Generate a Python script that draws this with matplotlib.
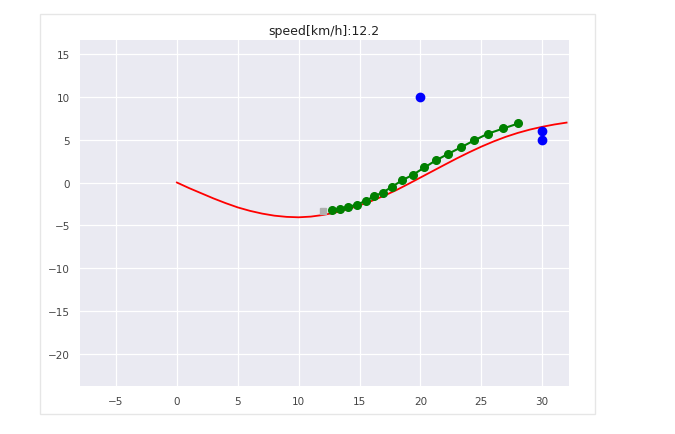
import matplotlib.pyplot as plt
from matplotlib.patches import Rectangle

# course (red)
course_x = [0, 1, 2, 3, 4, 5, 6, 7, 8, 9, 10, 11, 12, 13, 14, 15, 16,
            17, 18, 19, 20, 21, 22, 23, 24, 25, 26, 27, 28, 29, 30, 31, 32]
course_y = [0, -0.65, -1.25, -1.85, -2.4, -2.9, -3.3, -3.62, -3.86, -4.0, -4.05,
            -3.97, -3.78, -3.5, -3.12, -2.66, -2.14, -1.55, -0.9, -0.17, 0.58,
            1.33, 2.08, 2.82, 3.52, 4.18, 4.78, 5.32, 5.78, 6.17, 6.49, 6.76, 6.98]

# predicted trajectory (green)
traj_x = [12.71, 13.39, 14.08, 14.77, 15.5, 16.19, 16.9, 17.69, 18.51, 19.42,
          20.32, 21.26, 22.29, 23.36, 24.4, 25.53, 26.81, 28.04]
traj_y = [-3.23, -3.03, -2.84, -2.57, -2.14, -1.6, -1.17, -0.47, 0.27, 0.93,
          1.75, 2.57, 3.35, 4.12, 4.9, 5.68, 6.3, 6.88]

# points (blue)
pt_x = [20, 30, 30]
pt_y = [10, 6, 5]

# vehicle position
car_x = [12.0]
car_y = [-3.35]

speed = 12.2

fig = plt.figure(figsize=(6.75, 4.35), dpi=100)
# light frame around the figure area
frame = Rectangle((40/675, 20/435), 555/675, 400/435, transform=fig.transFigure,
                  facecolor='none', edgecolor='#e6e6e6', linewidth=1, zorder=-10)
fig.patches.append(frame)

ax = fig.add_axes([79.5/675, 1-387/435, (569-79.5)/675, (387-41)/435])
ax.set_facecolor('#EAEAF2')
for s in ax.spines.values():
    s.set_visible(False)
ax.grid(True, color='white', linewidth=0.9)
ax.set_axisbelow(True)

ax.plot(course_x, course_y, '-r', linewidth=1.3)
ax.plot(traj_x, traj_y, '-o', color='green', markersize=5.5, linewidth=1.5)
ax.plot(car_x, car_y, 's', color='#b0b0b0', markersize=4)
ax.plot(pt_x, pt_y, 'ob', markersize=6)

ax.set_xlim(-8.0, 32.2)
ax.set_ylim(-23.7, 16.6)
ax.set_xticks(range(-5, 31, 5))
ax.set_yticks(range(-20, 16, 5))
ax.tick_params(length=0, labelsize=7.5, labelcolor='#444444', pad=7)
ax.set_title('speed[km/h]:' + str(speed), fontsize=9, color='#222222', pad=4)

fig.savefig('out.png', dpi=100)
